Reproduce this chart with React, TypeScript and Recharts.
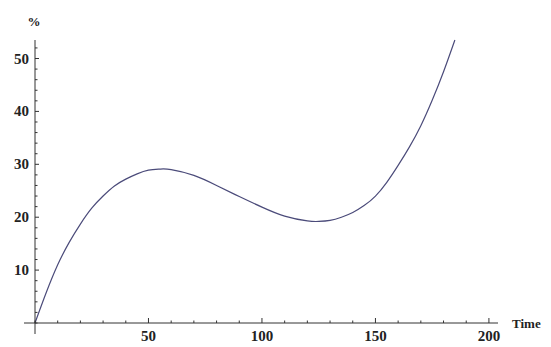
import { LineChart, Line, XAxis, YAxis } from 'recharts';

const times = [0, 5, 10, 15, 20, 25, 30, 35, 40, 45, 50, 55, 60, 70, 80, 90, 100, 110, 120, 125, 130, 135, 140, 145, 150, 155, 160, 165, 170, 175, 180, 185];
const percents = [0, 5.8, 11, 15.2, 18.7, 21.7, 24, 25.9, 27.2, 28.2, 28.9, 29.1, 29, 27.9, 26, 23.9, 21.9, 20.2, 19.3, 19.2, 19.4, 20, 20.9, 22.2, 24, 26.6, 29.8, 33.3, 37.3, 42.1, 47.5, 53.5];

const xTicks = [0, 10, 20, 30, 40, 50, 60, 70, 80, 90, 100, 110, 120, 130, 140, 150, 160, 170, 180, 190, 200];
const xLabels = [50, 100, 150, 200];
const yTicks = [0, 2, 4, 6, 8, 10, 12, 14, 16, 18, 20, 22, 24, 26, 28, 30, 32, 34, 36, 38, 40, 42, 44, 46, 48, 50, 52];
const yLabels = [10, 20, 30, 40, 50];

const data = times.map((t, i) => ({ t, p: percents[i] }));

const AXIS = '#333';
const FONT = '"Liberation Serif", "Times New Roman", serif';

function XTick({ x, y, payload }: any) {
  const v = payload.value;
  const major = xLabels.includes(v);
  return (
    <g>
      <line x1={x} y1={y} x2={x} y2={y - (major ? 5 : 2.5)} stroke={AXIS} />
      {v === 0 && <line x1={x} y1={y} x2={x} y2={y + 11} stroke={AXIS} />}
      {major && (
        <text x={x} y={y + 18} textAnchor="middle" fontSize={15} fontWeight="bold" fontFamily={FONT} fill="#222">
          {v}
        </text>
      )}
    </g>
  );
}

function YTick({ x, y, payload }: any) {
  const v = payload.value;
  const major = yLabels.includes(v);
  return (
    <g>
      <line x1={x} y1={y} x2={x + (major ? 4 : 2.5)} y2={y} stroke={AXIS} />
      {v === 0 && <line x1={x} y1={y} x2={x - 11} y2={y} stroke={AXIS} />}
      {major && (
        <text x={x - 6} y={y + 5} textAnchor="end" fontSize={15} fontWeight="bold" fontFamily={FONT} fill="#222">
          {v}
        </text>
      )}
    </g>
  );
}

export default function App() {
  return (
    <div style={{ position: 'absolute', left: 0, top: 0, width: 551, height: 347, background: '#fff' }}>
      <LineChart width={551} height={347} data={data} margin={{ top: 40, right: 53, bottom: 0, left: 0 }}>
        <XAxis
          dataKey="t"
          type="number"
          domain={[0, 204]}
          ticks={xTicks}
          interval={0}
          height={24}
          stroke={AXIS}
          tickSize={0}
          tickMargin={0}
          tickLine={false}
          tick={<XTick />}
        />
        <YAxis
          type="number"
          domain={[0, 53.5]}
          ticks={yTicks}
          interval={0}
          width={35}
          stroke={AXIS}
          tickSize={0}
          tickMargin={0}
          tickLine={false}
          tick={<YTick />}
        />
        <Line
          type="natural"
          dataKey="p"
          stroke="#4b4b7a"
          strokeWidth={1.2}
          dot={false}
          isAnimationActive={false}
        />
        <text x={34} y={26} textAnchor="middle" fontSize={13} fontWeight="bold" fontFamily={FONT} fill="#222">
          %
        </text>
        <text x={512} y={328} fontSize={13} fontWeight="bold" fontFamily={FONT} fill="#222">
          Time
        </text>
      </LineChart>
    </div>
  );
}
